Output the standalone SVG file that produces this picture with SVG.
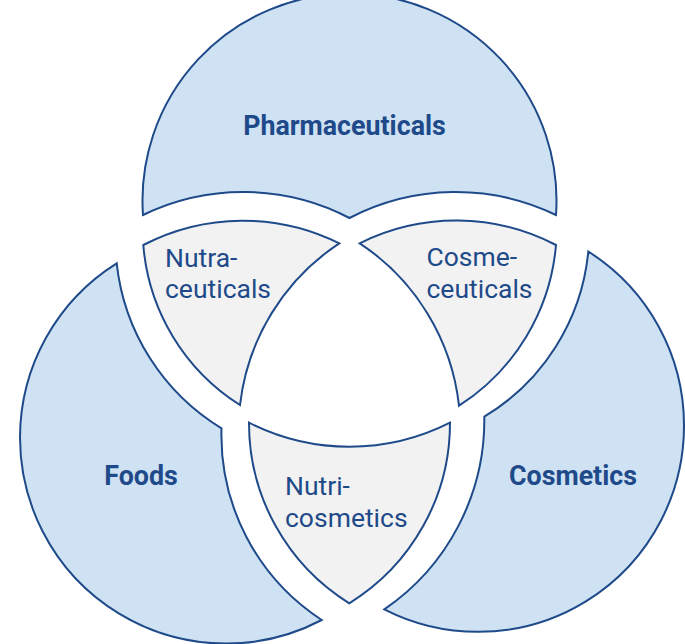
<svg xmlns="http://www.w3.org/2000/svg" width="685" height="644" viewBox="0 0 685 644">
  <style>
    .outer { fill: #cfe2f3; stroke: #1f4a8a; stroke-width: 2; stroke-linejoin: miter; }
    .inner { fill: #f2f2f2; stroke: #1f4a8a; stroke-width: 2; stroke-linejoin: miter; }
    .main { font-family: Roboto, "Liberation Sans", sans-serif; font-weight: 700; font-size: 26.8px; fill: #1f4a8a; text-anchor: middle; }
    .sub { font-family: Roboto, "Liberation Sans", sans-serif; font-weight: 400; font-size: 26.5px; fill: #1f4a8a; }
  </style>
  <rect width="685" height="644" fill="#ffffff"/>

  <g id="pharmaceuticals">
    <path class="outer" d="M 143 215 A 207 207 0 1 1 556 215 A 230 230 0 0 0 349.5 218 A 230 230 0 0 0 143 215 Z"/>
    <text class="main" x="344.5" y="135">Pharmaceuticals</text>
  </g>

  <g id="foods">
    <path class="outer" d="M 116.7 263.3 A 221 221 0 0 0 221.5 428.3 A 221 221 0 0 0 321.7 620 A 206 206 0 0 1 20 437 A 206 206 0 0 1 116.7 263.3 Z"/>
    <text class="main" x="141" y="485">Foods</text>
  </g>

  <g id="cosmetics">
    <path class="outer" d="M 588.3 251.5 A 206 206 0 0 1 684 426 A 206 206 0 0 1 384.3 609.3 A 229 229 0 0 0 484.3 416.7 A 217 217 0 0 0 588.3 251.5 Z"/>
    <text class="main" x="573" y="485">Cosmetics</text>
  </g>

  <g id="nutraceuticals">
    <path class="inner" d="M 143.3 245 A 216 216 0 0 1 339.3 243.3 A 224 224 0 0 0 240 405 A 209 209 0 0 1 143.3 245 Z"/>
    <text class="sub" x="165" y="267.3">Nutra-</text>
    <text class="sub" x="165" y="298.3">ceuticals</text>
  </g>

  <g id="cosmeceuticals">
    <path class="inner" d="M 359.7 243.3 A 216 216 0 0 1 556 245 A 212 212 0 0 1 459 405.7 A 224 224 0 0 0 359.7 243.3 Z"/>
    <text class="sub" x="426.5" y="266">Cosme-</text>
    <text class="sub" x="426.5" y="298.3">ceuticals</text>
  </g>

  <g id="nutricosmetics">
    <path class="inner" d="M 249 422.7 A 222 222 0 0 0 450 422.7 A 212 212 0 0 1 349.3 603.3 A 212 212 0 0 1 249 422.7 Z"/>
    <text class="sub" x="285" y="495">Nutri-</text>
    <text class="sub" x="285" y="526.7">cosmetics</text>
  </g>

  <g id="connectors"/>
</svg>
